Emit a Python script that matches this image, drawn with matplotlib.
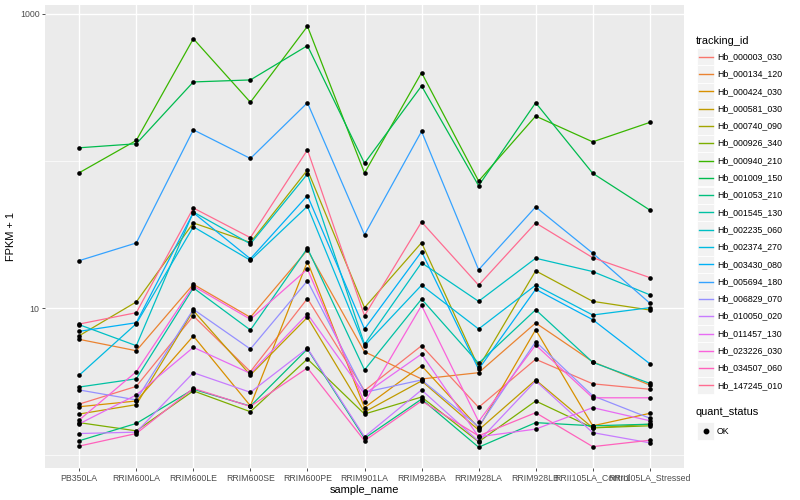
import matplotlib
matplotlib.use("Agg")
import matplotlib.pyplot as plt
from matplotlib.patches import Rectangle
from matplotlib.lines import Line2D

plt.rcParams['font.family'] = ['Liberation Sans', 'DejaVu Sans']

samples = ["PB350LA", "RRIM600LA", "RRIM600LE", "RRIM600SE", "RRIM600PE",
           "RRIM901LA", "RRIM928BA", "RRIM928LA", "RRIM928LB",
           "RRII105LA_Control", "RRII105LA_Stressed"]

tracking_ids = ["Hb_000003_030", "Hb_000134_120", "Hb_000424_030", "Hb_000581_030",
                "Hb_000740_090", "Hb_000926_340", "Hb_000940_210", "Hb_001009_150",
                "Hb_001053_210", "Hb_001545_130", "Hb_002235_060", "Hb_002374_270",
                "Hb_003430_080", "Hb_005694_180", "Hb_006829_070", "Hb_010050_020",
                "Hb_011457_130", "Hb_023226_030", "Hb_034507_060", "Hb_147245_010"]

# FPKM + 1 values, one list per tracking_id (order of samples)
hb_000003_030 = [2.22, 2.93, 8.83, 3.69, 11.6, 2.74, 5.54, 2.11, 4.48, 3.05, 2.80]
hb_000134_120 = [6.12, 5.12, 14.5, 8.64, 24.8, 5.04, 3.29, 3.63, 7.91, 4.31, 2.99]
hb_000424_030 = [2.13, 2.33, 6.45, 2.16, 20.7, 2.10, 4.05, 1.53, 7.12, 1.58, 1.92]
hb_000581_030 = [1.90, 2.20, 9.59, 3.50, 8.64, 1.96, 3.19, 1.48, 3.24, 1.53, 1.62]
hb_000740_090 = [6.48, 11.0, 37.9, 27.9, 86.9, 10.05, 27.8, 3.95, 17.9, 11.1, 9.69]
hb_000926_340 = [1.66, 1.46, 2.73, 1.97, 4.50, 1.90, 2.48, 1.23, 2.33, 1.53, 1.58]
hb_000940_210 = [83.2, 138, 679, 251, 825, 82.8, 399, 73.1, 202, 135, 183]
hb_001009_150 = [123, 131, 345, 356, 609, 96.5, 324, 67.9, 249, 82.5, 46.4]
hb_001053_210 = [1.25, 1.64, 2.80, 2.15, 5.26, 1.30, 2.40, 1.13, 1.66, 1.58, 1.62]
hb_001545_130 = [2.90, 3.30, 13.7, 7.08, 25.5, 3.79, 11.5, 4.21, 9.73, 4.27, 3.07]
hb_002235_060 = [7.70, 5.54, 45.0, 27.3, 81.6, 5.66, 20.3, 11.1, 21.8, 17.7, 12.3]
hb_002374_270 = [3.49, 7.82, 35.7, 21.1, 49.2, 5.54, 14.3, 7.20, 14.3, 8.96, 10.05]
hb_003430_080 = [6.94, 7.94, 44.5, 21.6, 58.1, 7.20, 24.2, 3.83, 13.4, 8.33, 4.18]
hb_005694_180 = [21.0, 27.7, 163, 104, 249, 31.5, 159, 18.2, 48.7, 23.6, 10.8]
hb_006829_070 = [2.77, 2.37, 9.80, 5.26, 15.3, 2.67, 3.24, 1.56, 5.90, 2.53, 1.78]
hb_010050_020 = [1.40, 1.43, 3.63, 2.67, 5.32, 1.33, 2.77, 1.24, 3.19, 1.42, 1.21]
hb_011457_130 = [1.63, 2.56, 5.40, 3.59, 9.10, 2.60, 4.86, 1.33, 1.50, 2.10, 1.71]
hb_023226_030 = [1.73, 3.69, 14.1, 8.38, 18.4, 2.28, 10.4, 1.69, 5.60, 2.45, 2.45]
hb_034507_060 = [1.15, 1.40, 2.84, 2.14, 3.91, 1.25, 2.33, 1.35, 1.94, 1.14, 1.26]
hb_147245_010 = [7.78, 9.29, 47.9, 30.1, 119, 8.86, 38.5, 14.3, 37.9, 22.0, 16.1]

series = [hb_000003_030, hb_000134_120, hb_000424_030, hb_000581_030, hb_000740_090,
          hb_000926_340, hb_000940_210, hb_001009_150, hb_001053_210, hb_001545_130,
          hb_002235_060, hb_002374_270, hb_003430_080, hb_005694_180, hb_006829_070,
          hb_010050_020, hb_011457_130, hb_023226_030, hb_034507_060, hb_147245_010]

colors = ["#F8766D", "#EA8331", "#D89000", "#C09B00", "#A3A500", "#7CAE00", "#39B600",
          "#00BB4E", "#00BF7D", "#00C1A3", "#00BFC4", "#00BAE0", "#00B0F6", "#35A2FF",
          "#9590FF", "#C77CFF", "#E76BF3", "#FA62DB", "#FF62BC", "#FF6C91"]

W, H = 800, 500
fig = plt.figure(figsize=(8, 5), dpi=100)
fig.patch.set_facecolor('white')

def fx(x):
    return x / W

def fy(y):
    return 1 - y / H

left, right, top, bottom = 45, 684, 5, 468
ax = fig.add_axes([fx(left), fy(bottom), (right - left) / W, (bottom - top) / H])
ax.set_facecolor('#EBEBEB')
ax.set_yscale('log')
ax.set_ylim(10 ** ((455 - 468) / 147), 10 ** ((455 - 5) / 147))
ax.set_xlim(-0.6, len(samples) - 0.4)

xs = list(range(len(samples)))
for vals, c in zip(series, colors):
    ax.plot(xs, vals, color=c, lw=0.9, zorder=2, solid_capstyle='butt')
for vals in series:
    ax.scatter(xs, vals, s=11, color='black', zorder=3, linewidths=0)

ax.set_xticks(xs)
ax.set_xticklabels(samples)
ax.set_yticks([10, 1000])
ax.set_yticklabels(["10", "1000"])
ax.set_yticks([1, 100], minor=True)
ax.set_yticklabels([], minor=True)
ax.tick_params(axis='both', which='major', length=2.5, width=0.6, color='#333333',
               labelcolor='#4D4D4D', labelsize=6.3, pad=1.5)
ax.tick_params(axis='y', which='minor', length=0)
ax.grid(which='major', color='white', lw=1.0, zorder=0)
ax.grid(which='minor', axis='y', color='white', lw=0.5, zorder=0)
ax.set_axisbelow(True)
for s in ax.spines.values():
    s.set_visible(False)

ax.set_xlabel("sample_name", fontsize=7.9, color='black', labelpad=2)
ax.set_ylabel("FPKM + 1", fontsize=7.9, color='black', labelpad=2.5)

# legend: tracking_id
fig.text(fx(696), fy(40.7), "tracking_id", fontsize=7.9, va='center', ha='left')
step = 17.3
for i, (lab, c) in enumerate(zip(tracking_ids, colors)):
    yc = 56.7 + step * i
    fig.patches.append(Rectangle((fx(697), fy(yc + 8.6)), 17 / W, 17.2 / H,
                                 transform=fig.transFigure, facecolor='#F2F2F2',
                                 edgecolor='white', lw=0.6))
    fig.lines.append(Line2D([fx(698.5), fx(712.5)], [fy(yc), fy(yc)],
                            transform=fig.transFigure, color=c, lw=1.0))
    fig.text(fx(717), fy(yc), lab, fontsize=6.3, va='center', ha='left')

# legend: quant_status
fig.text(fx(696), fy(412.3), "quant_status", fontsize=7.9, va='center', ha='left')
yc = 431
fig.patches.append(Rectangle((fx(697), fy(yc + 8.6)), 17 / W, 17.2 / H,
                             transform=fig.transFigure, facecolor='#F2F2F2',
                             edgecolor='white', lw=0.6))
fig.lines.append(Line2D([fx(705.5)], [fy(yc)], transform=fig.transFigure,
                        marker='o', markersize=3.2, color='black', linestyle='none'))
fig.text(fx(717), fy(yc), "OK", fontsize=6.3, va='center', ha='left')

fig.savefig("out.png", dpi=100)
